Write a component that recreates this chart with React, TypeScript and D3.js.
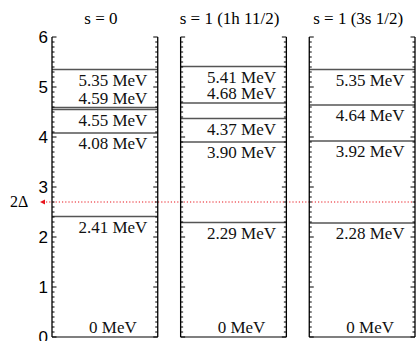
import * as d3 from "d3"

const panelTitles = ["s = 0", "s = 1 (1h 11/2)", "s = 1 (3s 1/2)"]
const levelsS0 = [0, 2.41, 4.08, 4.55, 4.59, 5.35]
const levelsH11 = [0, 2.29, 3.9, 4.37, 4.68, 5.41]
const levelsS12 = [0, 2.28, 3.92, 4.64, 5.35]
const yTicks = [0, 1, 2, 3, 4, 5, 6]
const gapEnergy = 2.7

const W = 416
const H = 341
const serif = "'Liberation Serif', 'Times New Roman', serif"
const sans = "'Liberation Sans', Arial, sans-serif"

export default function App() {
    const panels = [levelsS0, levelsH11, levelsS12]

    const y = d3.scaleLinear().domain([0, 6]).range([337, 37])
    const x = d3.scaleBand<number>()
        .domain(d3.range(panels.length))
        .range([52, 415])
        .paddingInner(0.178)
        .paddingOuter(0)

    const bw = x.bandwidth()
    const minorTicks = d3.range(0, 60.5, 1).map(i => i / 10)
    const fmt = (v: number) => (v === 0 ? "0" : d3.format(".2f")(v)) + " MeV"

    return (
        <svg width={W} height={H} style={{ position: "absolute", left: 0, top: 0, background: "#fff" }}>
            {/* y labels */}
            {yTicks.map(t => (
                <text key={t} x={48} y={y(t)} dy="0.36em" textAnchor="end"
                    fontFamily={sans} fontSize={17} fill="#000">{t}</text>
            ))}

            {/* 2 delta marker */}
            <text x={10} y={y(gapEnergy)} dy="0.34em" fontFamily={serif} fontSize={16}>2Δ</text>
            <path d={`M40,${y(gapEnergy)} l5,-2.5 l0,5 z`} fill="#e8141c" />
            <line x1={46} x2={W} y1={y(gapEnergy)} y2={y(gapEnergy)}
                stroke="#e8141c" strokeWidth={1.2} strokeDasharray="1.2,2" />

            {panels.map((levels, i) => {
                const x0 = x(i) ?? 0
                const x1 = x0 + bw
                const cx = x0 + bw / 2
                const sorted = [...levels].sort((a, b) => a - b)
                return (
                    <g key={i}>
                        <text x={cx - 4} y={24} textAnchor="middle" fontFamily={serif} fontSize={17}>
                            {panelTitles[i]}
                        </text>
                        {/* levels */}
                        {sorted.map((v, j) => {
                            const below = j > 0 && v - sorted[j - 1] > 0.4
                            return (
                                <g key={j}>
                                    <line x1={x0} x2={x1} y1={y(v)} y2={y(v)} stroke="#555" strokeWidth={1.5} />
                                    <text x={cx + 8} y={y(v) + (below ? 16 : -4)} textAnchor="middle"
                                        fontFamily={serif} fontSize={17} fill="#111">{fmt(v)}</text>
                                </g>
                            )
                        })}
                        {/* axes */}
                        <line x1={x0} x2={x0} y1={y(6)} y2={y(0)} stroke="#000" strokeWidth={1.3} />
                        <line x1={x1} x2={x1} y1={y(6)} y2={y(0)} stroke="#000" strokeWidth={1.3} />
                        {minorTicks.map(t => {
                            const major = Math.abs(t - Math.round(t)) < 1e-6
                            const len = major ? 4.5 : 2.5
                            return (
                                <g key={t}>
                                    <line x1={x0} x2={x0 + len} y1={y(t)} y2={y(t)} stroke="#000" strokeWidth={1} />
                                    <line x1={x1} x2={x1 - len} y1={y(t)} y2={y(t)} stroke="#000" strokeWidth={1} />
                                </g>
                            )
                        })}
                    </g>
                )
            })}
        </svg>
    )
}
